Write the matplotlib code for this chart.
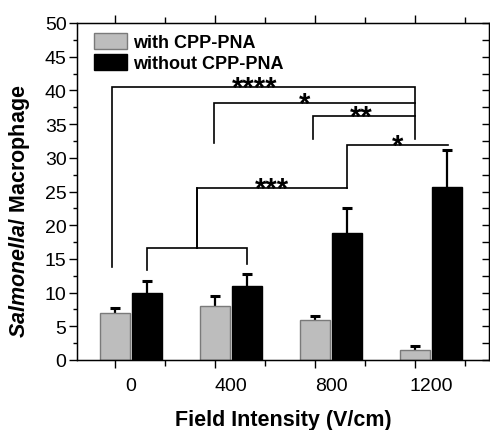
import numpy as np
import matplotlib
matplotlib.use('Agg')
import matplotlib.pyplot as plt
from matplotlib.ticker import MultipleLocator
import matplotlib.transforms as mtransforms

plt.rcParams['font.family'] = ['Liberation Sans', 'DejaVu Sans']
plt.rcParams['mathtext.fontset'] = 'custom'
plt.rcParams['mathtext.it'] = 'Liberation Sans:italic:bold'
plt.rcParams['mathtext.rm'] = 'Liberation Sans:bold'

# field intensity groups (V/cm)
fields = ['0', '400', '800', '1200']
# infected macrophages, mean and upper error
with_pna = [7.0, 8.05, 6.0, 1.5]
with_pna_err = [0.7, 1.5, 0.5, 0.6]
without_pna = [10.0, 11.0, 18.8, 25.6]
without_pna_err = [1.7, 1.8, 3.7, 5.6]

# significance brackets: (x left, x right, y level, left drop, right drop, star x, label)
brackets = [
    (0.32, 1.32, 16.6, 13.3, 14.2, None, ''),
    (0.82, 2.32, 25.5, 16.6, 25.5, 1.57, '***'),
    (2.32, 3.33, 31.9, 25.5, 31.9, 2.83, '*'),
    (1.98, 3.0, 36.2, 32.8, 36.2, 2.46, '**'),
    (0.99, 3.0, 38.1, 32.2, 38.1, 1.90, '*'),
    (-0.03, 3.0, 40.5, 13.8, 32.8, 1.40, '****'),
]

x = np.arange(len(fields))
width = 0.30
offset = 0.32

fig = plt.figure(figsize=(4.9, 4.31), dpi=100)
ax = fig.add_axes([77/490, 70/431, 412/490, 337/431])

ax.bar(x, with_pna, width, color='#bdbdbd', edgecolor='#7a7a7a', linewidth=1.0,
       label='with CPP-PNA', zorder=2)
ax.bar(x + offset, without_pna, width, color='black', edgecolor='black', linewidth=1.0,
       label='without CPP-PNA', zorder=2)

for xs, m, e in [(x, with_pna, with_pna_err), (x + offset, without_pna, without_pna_err)]:
    eb = ax.errorbar(xs, m, yerr=[np.zeros(len(e)), e], fmt='none', ecolor='black',
                     elinewidth=1.6, capsize=3.3, capthick=2.2, zorder=1)
    eb[1][0].set_visible(False)

for xl, xr, yl, dl, dr, sx, lab in brackets:
    ax.plot([xl, xl, xr, xr], [dl, yl, yl, dr], color='black', lw=1.2,
            solid_joinstyle='miter', zorder=3)
    if lab:
        ax.annotate(lab, (sx, yl), xytext=(0, -6.2), textcoords='offset points',
                    ha='center', va='baseline', fontsize=21, fontweight='bold')
# center stem of the bottom bracket joins the *** bracket
ax.plot([0.82, 0.82], [16.6, 25.5], color='black', lw=1.2, zorder=3)

ax.set_xlim(-0.38, 3.74)
ax.set_ylim(0, 50)
ax.set_xticks(x)
ax.set_xticklabels([])
ax.xaxis.set_minor_locator(MultipleLocator(1.0, offset=0.5))
ax.yaxis.set_major_locator(MultipleLocator(5))
ax.yaxis.set_minor_locator(MultipleLocator(2.5))
ax.tick_params(axis='both', which='major', direction='out', length=5.5, width=1.0,
               labelsize=14, pad=2)
ax.tick_params(axis='both', which='minor', direction='out', length=3, width=1.0)
ax.tick_params(axis='x', which='both', top=True)
ax.tick_params(axis='x', which='both', length=4)
ax.tick_params(axis='x', which='major', length=6)
for sp in ax.spines.values():
    sp.set_linewidth(1.0)

ax2 = ax.twinx()
ax2.set_ylim(0, 50)
ax2.yaxis.set_major_locator(MultipleLocator(2.5))
ax2.tick_params(axis='y', direction='in', length=5, width=1.0, labelright=False)

trans = mtransforms.blended_transform_factory(ax.transData, ax.transAxes)
for xi, lab in zip(x, fields):
    ax.text(xi + offset / 2, -0.077, lab, transform=trans, ha='center', va='center',
            fontsize=14)

fig.text(283/490, 1 - 421/431, 'Field Intensity (V/cm)', ha='center', va='center',
         fontsize=15.5, fontweight='bold')
fig.text(20/490, 1 - 211/431, r'$\mathit{Salmonella/}$ Macrophage', ha='center',
         va='center', rotation=90, fontsize=15.5, fontweight='bold')

ax.legend(loc='upper left', bbox_to_anchor=(94/490, 1 - 34/431),
          bbox_transform=fig.transFigure, frameon=False, fontsize=13,
          prop={'weight': 'bold', 'size': 13}, handlelength=1.85, handleheight=1.0,
          handletextpad=0.3, labelspacing=0.15, borderpad=0, borderaxespad=0)

fig.savefig('out.png', dpi=100)
